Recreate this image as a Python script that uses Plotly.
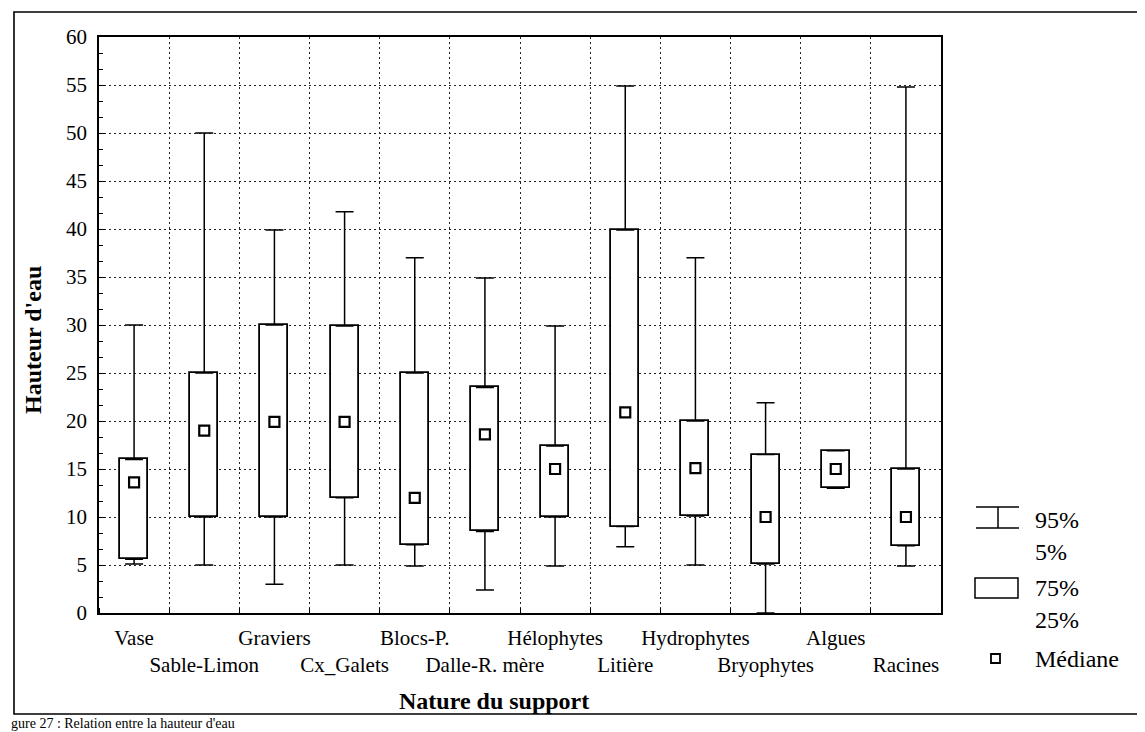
import plotly.graph_objects as go

categories = ["Vase", "Sable-Limon", "Graviers", "Cx_Galets", "Blocs-P.", "Dalle-R. mère",
              "Hélophytes", "Litière", "Hydrophytes", "Bryophytes", "Algues", "Racines"]
p5 = [5.1, 5.0, 3.0, 5.0, 4.9, 2.4, 4.9, 6.9, 5.0, 0.0, 13.0, 4.9]
q1 = [5.6, 10.0, 10.0, 12.0, 7.1, 8.5, 10.0, 9.0, 10.1, 5.1, 13.0, 7.0]
median = [13.6, 19.0, 19.9, 19.9, 12.0, 18.6, 15.0, 20.9, 15.1, 10.0, 15.0, 10.0]
q3 = [16.0, 25.0, 30.0, 29.9, 25.0, 23.5, 17.4, 39.9, 20.0, 16.5, 16.9, 15.0]
p95 = [30.0, 50.0, 39.9, 41.8, 37.0, 34.9, 29.9, 54.9, 37.0, 21.9, 16.9, 54.8]
y_ticks = list(range(0, 65, 5))

n = len(categories)
pos = list(range(n))
tick_text = [c if i % 2 == 0 else "<br>" + c for i, c in enumerate(categories)]

SERIF = "Liberation Serif, Times New Roman, serif"
PAGE_W, PAGE_H = 1145, 732
OFF = 8  # default body margin of the html page
W, H = PAGE_W - OFF, PAGE_H - OFF
# plot area in page pixels
L, R, T, B = 99, 941, 37, 613


def xp(px):
    return (px - L) / (R - L)


def yp(py):
    return (B - py) / (B - T)


fig = go.Figure()

# whiskers (upper and lower)
fig.add_trace(go.Scatter(
    x=pos, y=q3, mode="markers", marker=dict(size=1, opacity=0),
    error_y=dict(type="data", symmetric=False,
                 array=[a - b for a, b in zip(p95, q3)], arrayminus=[0] * n,
                 width=9, thickness=1.5, color="black"),
    showlegend=False, hoverinfo="skip"))
fig.add_trace(go.Scatter(
    x=pos, y=q1, mode="markers", marker=dict(size=1, opacity=0),
    error_y=dict(type="data", symmetric=False,
                 array=[0] * n, arrayminus=[a - b for a, b in zip(q1, p5)],
                 width=9, thickness=1.5, color="black"),
    showlegend=False, hoverinfo="skip"))

# boxes
fig.add_trace(go.Bar(
    x=pos, y=[a - b for a, b in zip(q3, q1)], base=q1, width=0.4,
    marker=dict(color="white", line=dict(color="black", width=1.8)),
    showlegend=False, hoverinfo="skip"))

# medians
fig.add_trace(go.Scatter(
    x=pos, y=median, mode="markers",
    marker=dict(symbol="square-open", size=10, color="black", line=dict(width=2.2, color="black")),
    showlegend=False, hoverinfo="skip"))

fig.update_layout(
    width=W, height=H,
    margin=dict(l=L - OFF, r=PAGE_W - R, t=T - OFF, b=PAGE_H - B, autoexpand=False),
    paper_bgcolor="white", plot_bgcolor="white",
    font=dict(family=SERIF, color="black"),
    bargap=0,
    xaxis=dict(
        range=[-0.5, n - 0.5], tickmode="array", tickvals=pos, ticktext=tick_text,
        tickangle=0, automargin=False,
        showgrid=False, zeroline=False, ticks="",
        tickfont=dict(family=SERIF, size=21, color="black"),
        ticklabelstandoff=5,
        showline=True, linecolor="black", linewidth=1.5, mirror=True,
        minor=dict(tickmode="linear", tick0=0.5, dtick=1, showgrid=True,
                   gridcolor="#222", griddash="2px,3px", gridwidth=1,
                   ticks="inside", ticklen=5, tickcolor="black"),
    ),
    yaxis=dict(
        range=[0, 60], tickmode="array", tickvals=y_ticks, automargin=False,
        showgrid=True, gridcolor="#222", griddash="2px,3px", gridwidth=1,
        zeroline=False, ticks="inside", ticklen=6, tickcolor="black",
        tickfont=dict(family=SERIF, size=21, color="black"),
        ticklabelstandoff=6,
        showline=True, linecolor="black", linewidth=1.5, mirror=True,
        minor=dict(tickmode="linear", tick0=0, dtick=5 / 3, ticks="inside",
                   ticklen=4, tickcolor="black", showgrid=False),
    ),
)

shapes = []
# outer frame
shapes.append(dict(type="rect", xref="paper", yref="paper",
                   x0=xp(14), x1=xp(1139), y0=yp(714), y1=yp(12),
                   line=dict(color="black", width=1.6), layer="below"))
# legend glyphs
shapes.append(dict(type="line", xref="paper", yref="paper", x0=xp(976), x1=xp(1019), y0=yp(507), y1=yp(507),
                   line=dict(color="black", width=1.5)))
shapes.append(dict(type="line", xref="paper", yref="paper", x0=xp(976), x1=xp(1019), y0=yp(528), y1=yp(528),
                   line=dict(color="black", width=1.5)))
shapes.append(dict(type="line", xref="paper", yref="paper", x0=xp(998), x1=xp(998), y0=yp(507), y1=yp(528),
                   line=dict(color="black", width=1.5)))
shapes.append(dict(type="rect", xref="paper", yref="paper", x0=xp(975), x1=xp(1018), y0=yp(598), y1=yp(578),
                   line=dict(color="black", width=1.5), fillcolor="white"))
shapes.append(dict(type="rect", xref="paper", yref="paper", x0=xp(991), x1=xp(1000), y0=yp(663), y1=yp(654),
                   line=dict(color="black", width=1.8), fillcolor="white"))
fig.update_layout(shapes=shapes)

ann = []
for txt, py in [("95%", 520), ("5%", 552), ("75%", 588), ("25%", 620), ("Médiane", 659)]:
    ann.append(dict(text=txt, xref="paper", yref="paper", x=xp(1033), y=yp(py),
                    xanchor="left", yanchor="middle", showarrow=False,
                    font=dict(family=SERIF, size=24, color="black")))
ann.append(dict(text="<b>Nature du support</b>", xref="paper", yref="paper",
                x=xp(494), y=yp(701), xanchor="center", yanchor="middle", showarrow=False,
                font=dict(family=SERIF, size=24, color="black")))
ann.append(dict(text="<b>Hauteur d'eau</b>", xref="paper", yref="paper",
                x=xp(33), y=yp(340), xanchor="center", yanchor="middle", showarrow=False,
                textangle=-90, font=dict(family=SERIF, size=24, color="black")))
ann.append(dict(text="gure 27 : Relation entre la hauteur d'eau", xref="paper", yref="paper",
                x=xp(10), y=yp(723), xanchor="left", yanchor="middle", showarrow=False,
                borderpad=0, font=dict(family=SERIF, size=14, color="black")))
fig.update_layout(annotations=ann)

fig.write_html("out.html")
